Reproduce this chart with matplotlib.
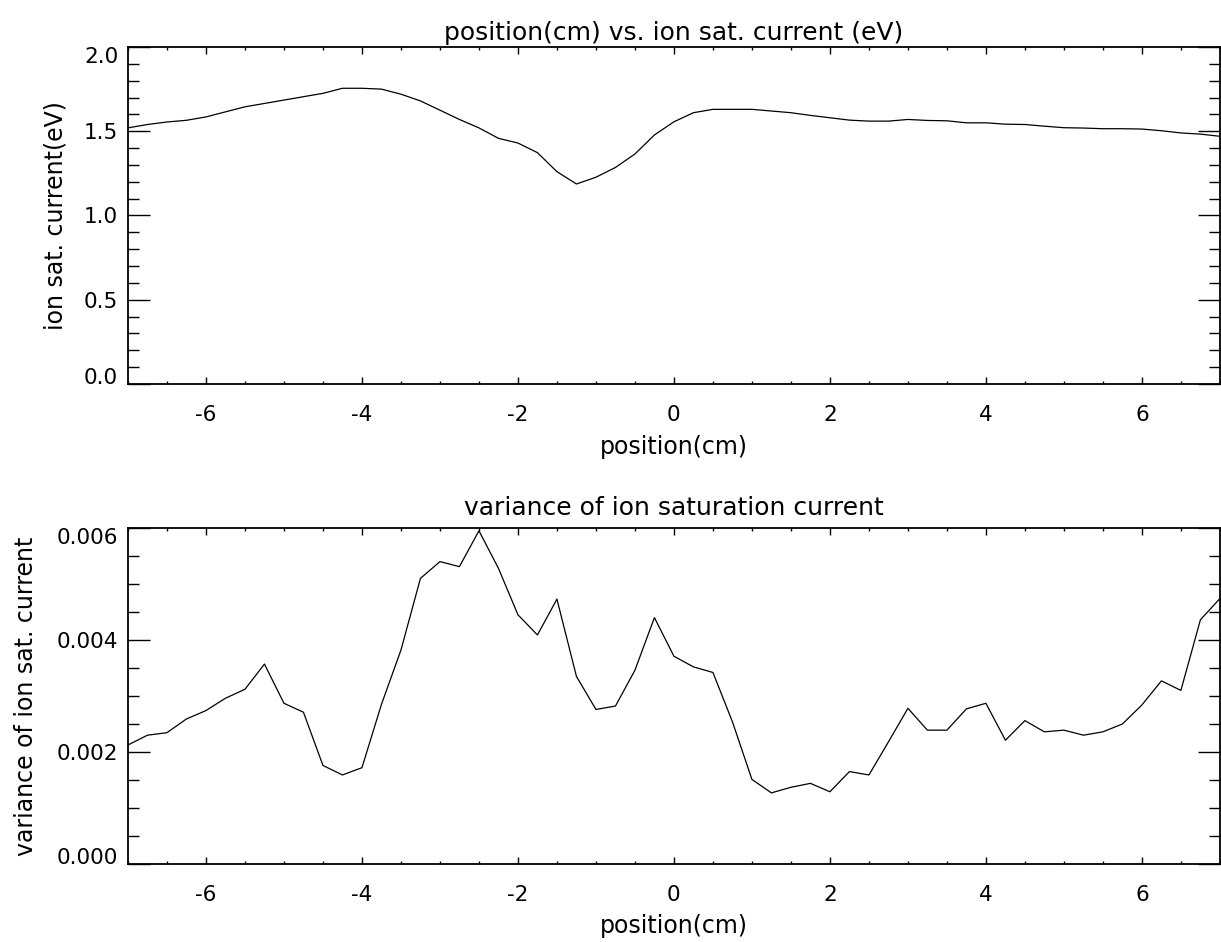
import numpy as np
import matplotlib
matplotlib.use("Agg")
import matplotlib.pyplot as plt
from matplotlib.ticker import MultipleLocator, FormatStrFormatter

plt.rcParams['font.family'] = ['DejaVu Sans']
plt.rcParams['axes.unicode_minus'] = False

# probe positions (cm), 0.25 cm steps
position = np.arange(-7, 7.01, 0.25)

# mean ion saturation current
isat = [1.52, 1.54, 1.555, 1.565, 1.585, 1.615, 1.645, 1.665, 1.685, 1.705,
        1.725, 1.755, 1.755, 1.75, 1.72, 1.68, 1.625, 1.57, 1.52, 1.458,
        1.43, 1.373, 1.26, 1.187, 1.227, 1.285, 1.365, 1.478, 1.556, 1.61,
        1.63, 1.63, 1.63, 1.62, 1.61, 1.594, 1.58, 1.566, 1.56, 1.56,
        1.57, 1.564, 1.562, 1.55, 1.55, 1.542, 1.54, 1.53, 1.521, 1.519,
        1.515, 1.515, 1.513, 1.503, 1.49, 1.483, 1.47]

# variance of ion saturation current (x 1e-3)
isat_var = [2.125, 2.30, 2.345, 2.59, 2.74, 2.96, 3.12, 3.57, 2.87, 2.71,
            1.76, 1.59, 1.72, 2.85, 3.82, 5.10, 5.40, 5.31, 5.95, 5.28,
            4.45, 4.09, 4.73, 3.35, 2.76, 2.82, 3.46, 4.40, 3.71, 3.52,
            3.42, 2.54, 1.51, 1.27, 1.37, 1.44, 1.29, 1.65, 1.59, 2.18,
            2.78, 2.39, 2.39, 2.77, 2.87, 2.21, 2.56, 2.36, 2.39, 2.30,
            2.36, 2.50, 2.84, 3.27, 3.10, 4.36, 4.74]
isat_var = np.array(isat_var) * 1e-3

fig = plt.figure(figsize=(12.21, 9.42), dpi=100)
ax1 = fig.add_axes([0.1048, 0.5924, 0.8943, 0.3577])
ax2 = fig.add_axes([0.1048, 0.0828, 0.8943, 0.3567])

tick_fs = 15.5
lab_fs = 17
title_fs = 18


def style(ax):
    ax.set_xlim(-7, 7)
    ax.xaxis.set_major_locator(MultipleLocator(2))
    ax.xaxis.set_minor_locator(MultipleLocator(0.5))
    ax.tick_params(axis='x', which='major', direction='in', length=5, width=1,
                   top=True, bottom=True, labelsize=tick_fs, pad=15)
    ax.tick_params(axis='x', which='minor', direction='in', length=2.5, width=1,
                   top=True, bottom=True)
    ax.tick_params(axis='y', which='major', direction='in', length=15.8, width=1,
                   left=True, right=True, labelsize=tick_fs, pad=7)
    ax.tick_params(axis='y', which='minor', direction='in', length=7.9, width=1,
                   left=True, right=True)
    for s in ax.spines.values():
        s.set_linewidth(1.3)
    ax.set_xlabel('position(cm)', fontsize=lab_fs)
    ax.xaxis.set_label_coords(0.5, -0.15)


ax1.plot(position, isat, color='black', lw=0.9)
style(ax1)
ax1.set_ylim(0, 2.0)
ax1.yaxis.set_major_locator(MultipleLocator(0.5))
ax1.yaxis.set_minor_locator(MultipleLocator(0.1))
ax1.yaxis.set_major_formatter(FormatStrFormatter('%.1f'))
ax1.set_ylabel('ion sat. current(eV)', fontsize=lab_fs)
ax1.yaxis.set_label_coords(-0.055, 0.5)
ax1.set_title('position(cm) vs. ion sat. current (eV)', fontsize=title_fs, pad=5)

ax2.plot(position, isat_var, color='black', lw=0.9)
style(ax2)
ax2.set_ylim(0, 0.006)
ax2.yaxis.set_major_locator(MultipleLocator(0.002))
ax2.yaxis.set_minor_locator(MultipleLocator(0.0005))
ax2.yaxis.set_major_formatter(FormatStrFormatter('%.3f'))
ax2.set_ylabel('variance of ion sat. current', fontsize=lab_fs)
ax2.yaxis.set_label_coords(-0.0824, 0.5)
ax2.set_title('variance of ion saturation current', fontsize=title_fs, pad=9)

# keep the end labels of the y axes inside the frame
fig.canvas.draw()
for ax in (ax1, ax2):
    lo, hi = ax.get_ylim()
    eps = (hi - lo) * 1e-6
    for t in ax.get_yticklabels():
        y = t.get_position()[1]
        if abs(y - lo) < eps:
            t.set_va('baseline')
        elif abs(y - hi) < eps:
            t.set_va('top')

fig.savefig('out.png', dpi=100)
